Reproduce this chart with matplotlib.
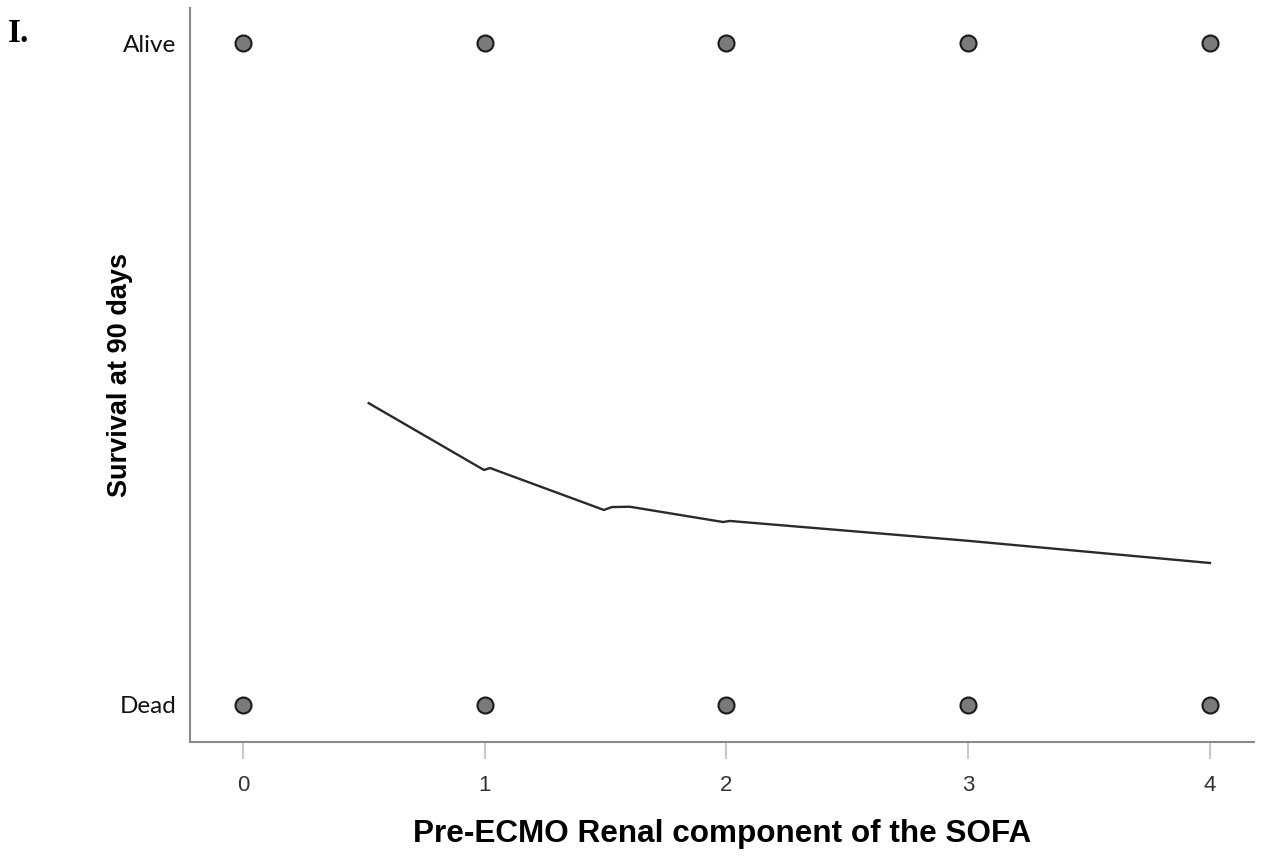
import matplotlib.pyplot as plt

# renal SOFA component (x) and 90 day outcome (0 = dead, 1 = alive)
sofa_levels = [0, 1, 2, 3, 4]
alive_y = [1, 1, 1, 1, 1]
dead_y = [0, 0, 0, 0, 0]

# loess fit line
fit_x = [0.52, 0.997, 1.022, 1.493, 1.526, 1.60, 1.986, 2.014, 3.0, 4.0]
fit_y = [0.456, 0.355, 0.358, 0.2946, 0.299, 0.2995, 0.2764, 0.278, 0.248, 0.2145]

y_ticks = [0, 1]
y_ticklabels = ['Dead', 'Alive']

fig = plt.figure(figsize=(12.71, 8.56), dpi=100)
ax = fig.add_axes([0.1495, 0.1332, 0.8371, 0.8575])

ax.plot(sofa_levels, alive_y, 'o', ms=11.5, mfc='#7a7a7a', mec='#1a1a1a', mew=1.5, zorder=3)
ax.plot(sofa_levels, dead_y, 'o', ms=11.5, mfc='#7a7a7a', mec='#1a1a1a', mew=1.5, zorder=3)
ax.plot(fit_x, fit_y, color='#2a2a2a', lw=1.7)

ax.set_xlim(-0.219, 4.182)
ax.set_ylim(-0.0559, 1.053)

for s in ['top', 'right']:
    ax.spines[s].set_visible(False)
for s in ['left', 'bottom']:
    ax.spines[s].set_color('#8a8a8a')
    ax.spines[s].set_linewidth(1.5)

ax.set_xticks(sofa_levels)
ax.set_xticklabels([str(v) for v in sofa_levels], fontsize=16, family='Liberation Sans', color='#333333')
ax.tick_params(axis='x', length=12, width=1.5, color='#c8c8c8', pad=12)

ax.set_yticks(y_ticks)
ax.set_yticklabels(y_ticklabels, fontsize=17.5, family='Lato', color='#111111')
ax.tick_params(axis='y', length=0, pad=10)

ax.set_xlabel('Pre-ECMO Renal component of the SOFA', fontsize=22.7, fontweight='bold',
              family='Liberation Sans', labelpad=16)
ax.set_ylabel('Survival at 90 days', fontsize=19.5, fontweight='bold',
              family='Liberation Sans')
ax.yaxis.set_label_coords(-0.054, 0.5)

fig.text(0.006, 0.961, 'I.', fontsize=24, fontweight='bold', family='Liberation Serif',
         ha='left', va='center')

fig.savefig('out.png', dpi=100)
